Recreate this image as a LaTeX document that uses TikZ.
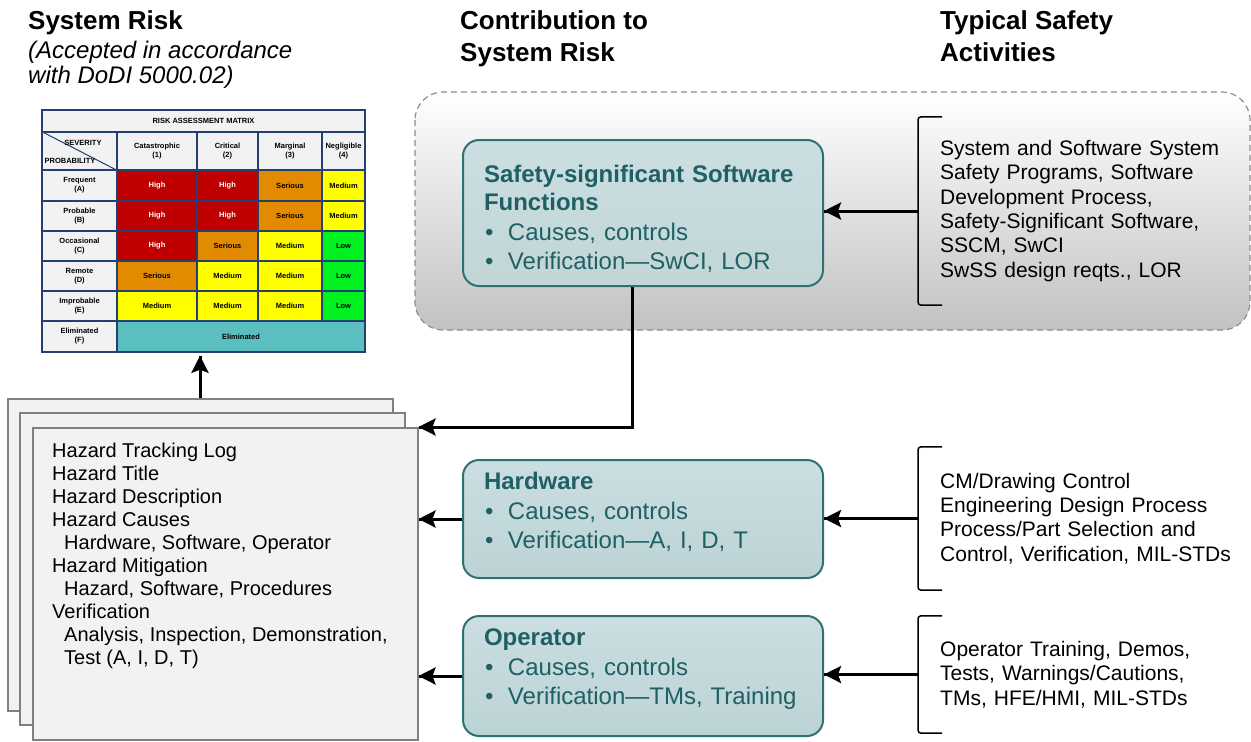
\documentclass[tikz,border=0pt]{standalone}
\usepackage{fontspec}
\setmainfont{Liberation Sans}
\usetikzlibrary{positioning,shadings,arrows.meta,decorations.markings}
\definecolor{mblue}{HTML}{23406E}
\definecolor{mgray}{HTML}{F2F2F2}
\definecolor{riskred}{HTML}{C00000}
\definecolor{riskorange}{HTML}{E28A00}
\definecolor{riskyellow}{HTML}{FFFF00}
\definecolor{riskgreen}{HTML}{00F020}
\definecolor{elimteal}{HTML}{5BBFBF}
\definecolor{boxedge}{HTML}{2F7073}
\definecolor{boxtext}{HTML}{1F6064}
\definecolor{boxtop}{HTML}{CBDEE1}
\definecolor{boxbot}{HTML}{BCD3D6}
\definecolor{pagefill}{HTML}{F2F2F2}
\definecolor{pageedge}{HTML}{808080}
\newcommand\bul{\makebox[24pt][l]{\hspace{1pt}\textbullet}}
\tikzset{->/.style = {decoration={markings, mark=at position 1 with {\arrow{Stealth[length=17pt,width=17pt,inset=3pt]}}}, postaction={decorate}}}
\tikzset{
  link/.style={line width=3pt},
  bracket/.style={line width=1.5pt, rounded corners=3pt},
  page/.style={draw=pageedge, fill=pagefill, line width=2pt, minimum width=385, minimum height=312},
  cbox/.style={draw=boxedge, line width=2pt, rounded corners=16pt, top color=boxtop, bottom color=boxbot,
               minimum width=360, text width=318, inner xsep=21pt, inner ysep=4pt, align=left, text=boxtext,
               font=\fontsize{24}{29.5}\selectfont},
  acts/.style={text width=310, align=left, inner xsep=22pt, anchor=west, font=\fontsize{21}{24.3}\selectfont},
  heading/.style={anchor=north west, inner sep=0pt, align=left, font=\bfseries\fontsize{26}{32}\selectfont},
  mcell/.style={draw=mblue, line width=1.2pt, fill=mgray, inner sep=0pt, align=center,
                font=\bfseries\fontsize{7.5}{9}\selectfont},
  High/.style={fill=riskred, text=white},
  Serious/.style={fill=riskorange},
  Medium/.style={fill=riskyellow},
  Low/.style={fill=riskgreen},
}

\begin{document}
\begin{tikzpicture}[x=1pt,y=-1pt]
  \useasboundingbox (0,0) rectangle (1251,742);
  % column titles
  \node[heading] (sysrisk) at (28,10) {System Risk};
  \node[anchor=north west, inner sep=0pt, align=left, font=\itshape\fontsize{24}{25}\selectfont] (accept) at (28,41) {(Accepted in accordance\\with DoDI 5000.02)};
  \node[heading] (contrib) at (460,10) {Contribution to\\System Risk};
  \node[heading] (typical) at (940,10) {Typical Safety\\Activities};

  % risk assessment matrix
  \node[mcell, minimum width=323, minimum height=22] (ramtitle) at (203.5,121) {RISK ASSESSMENT MATRIX};
  \node[mcell, minimum width=75, minimum height=38] (corner) at (79.5,151) {};
  \draw[mblue, line width=1pt] (corner.north west) -- (corner.south east);
  \node[font=\bfseries\fontsize{7.5}{9}\selectfont, inner sep=0pt] at (83,143) {SEVERITY};
  \node[font=\bfseries\fontsize{7.5}{9}\selectfont, inner sep=0pt] at (70,161) {PROBABILITY};
  \node[mcell, minimum width=80, minimum height=38] at (157,151) {Catastrophic\\(1)};
  \node[mcell, minimum width=61, minimum height=38] at (227.5,151) {Critical\\(2)};
  \node[mcell, minimum width=64, minimum height=38] at (290,151) {Marginal\\(3)};
  \node[mcell, minimum width=43, minimum height=38] at (343.5,151) {Negligible\\(4)};
  \foreach \yt/\yb/\lab/\ca/\cb/\cc/\cd in {
      170/201/Frequent\\(A)/High/High/Serious/Medium,
      201/231/Probable\\(B)/High/High/Serious/Medium,
      231/261/Occasional\\(C)/High/Serious/Medium/Low,
      261/291/Remote\\(D)/Serious/Medium/Medium/Low,
      291/321/Improbable\\(E)/Medium/Medium/Medium/Low}
  {
    \node[mcell, minimum width=75, minimum height=\yb-\yt] at (79.5,{(\yt+\yb)/2}) {\lab};
    \node[mcell, \ca, minimum width=80, minimum height=\yb-\yt] at (157,{(\yt+\yb)/2}) {\ca};
    \node[mcell, \cb, minimum width=61, minimum height=\yb-\yt] at (227.5,{(\yt+\yb)/2}) {\cb};
    \node[mcell, \cc, minimum width=64, minimum height=\yb-\yt] at (290,{(\yt+\yb)/2}) {\cc};
    \node[mcell, \cd, minimum width=43, minimum height=\yb-\yt] at (343.5,{(\yt+\yb)/2}) {\cd};
  }
  \node[mcell, minimum width=75, minimum height=31] at (79.5,336.5) {Eliminated\\(F)};
  \node[mcell, fill=elimteal, minimum width=248, minimum height=31] at (241,336.5) {Eliminated};
  \node[draw=mblue, line width=1.5pt, minimum width=323, minimum height=242] (ram) at (203.5,231) {};

  % hazard tracking log pages
  \node[page] (page3) at (200,554.5) {};
  \node[page] (page2) at (212,569) {};
  \node[page] (doc) at (225,584) {};
  \node[anchor=north west, inner sep=0pt, align=left, font=\fontsize{20}{23}\selectfont] (hazlist) at (52,443)
    {Hazard Tracking Log\\Hazard Title\\Hazard Description\\Hazard Causes\\
     \hspace*{12pt}Hardware, Software, Operator\\Hazard Mitigation\\
     \hspace*{12pt}Hazard, Software, Procedures\\Verification\\
     \hspace*{12pt}Analysis, Inspection, Demonstration,\\\hspace*{12pt}Test (A, I, D, T)};
  \draw[link,->] (page3.north) -- ([yshift=-3pt]page3.north |- ram.south);

  % software region
  \draw[draw=black!45, dashed, dash pattern=on 6pt off 4pt, line width=1.2pt, rounded corners=28pt,
        top color=white, bottom color=black!24] (415,92) rectangle (1250,330);

  % contribution boxes
  \node[cbox, bottom color=boxbot!75!boxedge!60, minimum height=146] (ssf) at (643,213)
    {\rule{0pt}{29pt}\textbf{Safety-significant Software}\\[-1pt]\textbf{Functions}\\\bul Causes, controls\\\bul Verification—SwCI, LOR};
  \node[cbox, minimum height=118] (hw) at (643,519)
    {\textbf{Hardware}\\\bul Causes, controls\\\bul Verification—A, I, D, T\rule[-17pt]{0pt}{0pt}};
  \node[cbox, minimum height=120] (op) at (643,676)
    {\textbf{Operator}\\\bul Causes, controls\\\bul Verification—TMs, Training\rule[-18pt]{0pt}{0pt}};

  % safety activities
  \node[acts, minimum height=188] (act1) at (918,211) {System and Software System\\Safety Programs, Software\\Development Process,\\Safety-Significant Software,\\SSCM, SwCI\\SwSS design reqts., LOR};
  \node[acts, minimum height=143] (act2) at (918,518.5) {CM/Drawing Control\\Engineering Design Process\\Process/Part Selection and\\Control, Verification, MIL-STDs};
  \node[acts, minimum height=117] (act3) at (918,674.5) {Operator Training, Demos,\\Tests, Warnings/Cautions,\\TMs, HFE/HMI, MIL-STDs};
  \foreach \a in {act1,act2,act3}
    \draw[bracket] ([xshift=24pt]\a.north west) -- (\a.north west) -- (\a.south west) -- ++(24pt,0);

  % connectors
  \draw[link,->] (act1.west) -- (act1.west -| ssf.east);
  \draw[link,->] (act2.west) -- (act2.west -| hw.east);
  \draw[link,->] (act3.west) -- (act3.west -| op.east);
  \draw[link,->] ([xshift=-11pt]ssf.south) |- (doc.north east);
  \draw[link,->] (hw.west) -- (hw.west -| doc.east);
  \draw[link,->] (op.west) -- (op.west -| doc.east);
\end{tikzpicture}
\end{document}
